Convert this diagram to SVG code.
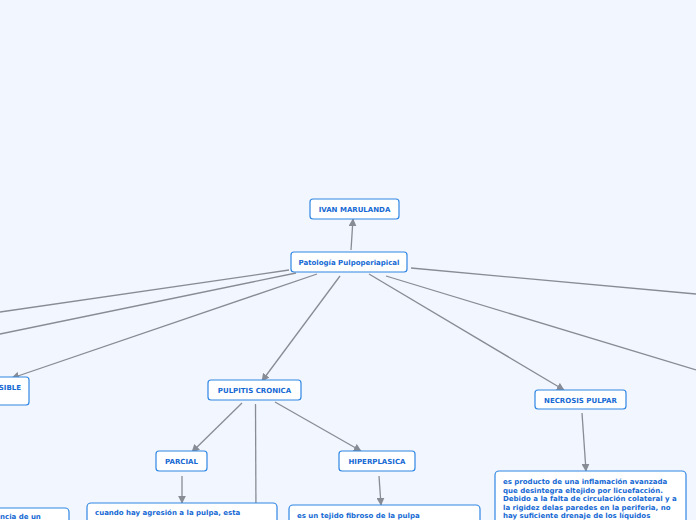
<svg xmlns="http://www.w3.org/2000/svg" width="696" height="520" viewBox="0 0 696 520">
<defs>
<marker id="ah" viewBox="0 0 10 10" refX="9" refY="5" markerWidth="8" markerHeight="8" markerUnits="userSpaceOnUse" orient="auto">
<path d="M0,0 L10,5 L0,10 z" fill="#888c94"/>
</marker>
<style>
.box{fill:#ffffff;stroke:#2f86e3;stroke-width:1.2}
.lbl{font-family:"DejaVu Sans",Verdana,sans-serif;font-weight:bold;font-size:7px;fill:#1569d4;text-anchor:middle}
.txt{font-family:"DejaVu Sans",Verdana,sans-serif;font-weight:bold;font-size:7px;fill:#1569d4}
.edge{stroke:#888c94;stroke-width:1.3;fill:none}
.arr{marker-end:url(#ah)}
</style>
</defs>
<rect x="0" y="0" width="696" height="520" fill="#f2f6fe"/>
<g id="connectors">
<line class="edge arr" x1="351" y1="250" x2="353" y2="219"/>
<line class="edge" x1="289" y1="270" x2="0" y2="312"/>
<line class="edge" x1="296" y1="273" x2="0" y2="334"/>
<line class="edge arr" x1="317" y1="274" x2="12" y2="378"/>
<line class="edge arr" x1="340" y1="276" x2="262" y2="381"/>
<line class="edge arr" x1="369" y1="274" x2="564" y2="390"/>
<line class="edge" x1="411" y1="268" x2="696" y2="294"/>
<line class="edge" x1="386" y1="276" x2="696" y2="370"/>
<line class="edge arr" x1="242" y1="403" x2="192" y2="452"/>
<line class="edge arr" x1="275" y1="402" x2="361" y2="451"/>
<line class="edge" x1="255.5" y1="404" x2="256" y2="520"/>
<line class="edge arr" x1="182" y1="476" x2="182" y2="503"/>
<line class="edge arr" x1="379" y1="476" x2="381" y2="505"/>
<line class="edge arr" x1="582" y1="413" x2="586" y2="471"/>
</g>
<g id="n_ivan">
<rect class="box" x="310" y="199" width="89" height="20" rx="3"/>
<text class="lbl" x="354.5" y="212">IVAN MARULANDA</text>
</g>
<g id="n_root">
<rect class="box" x="291" y="252" width="116" height="20" rx="3"/>
<text class="lbl" x="349" y="265">Patología Pulpoperiapical</text>
</g>
<g id="n_reversible">
<rect class="box" x="-80" y="377" width="109" height="28" rx="3"/>
<text class="lbl" x="21" y="390" style="text-anchor:end">SIBLE</text>
</g>
<g id="n_cronica">
<rect class="box" x="208" y="380" width="93" height="20" rx="3"/>
<text class="lbl" x="254.5" y="393">PULPITIS CRONICA</text>
</g>
<g id="n_necrosis">
<rect class="box" x="535" y="390" width="91" height="19" rx="3"/>
<text class="lbl" x="580.5" y="402.5">NECROSIS PULPAR</text>
</g>
<g id="n_parcial">
<rect class="box" x="156" y="451" width="51" height="20" rx="3"/>
<text class="lbl" x="181.5" y="464">PARCIAL</text>
</g>
<g id="n_hiper">
<rect class="box" x="339" y="451" width="76" height="20" rx="3"/>
<text class="lbl" x="377" y="464">HIPERPLASICA</text>
</g>
<g id="n_left_desc">
<rect class="box" x="-120" y="508" width="189" height="40" rx="4"/>
<text class="txt" x="0" y="519">ncia de un</text>
</g>
<g id="n_parcial_desc">
<rect class="box" x="87" y="503" width="190" height="40" rx="4"/>
<text class="txt" x="95" y="515">cuando hay agresión a la pulpa, esta</text>
</g>
<g id="n_hiper_desc">
<rect class="box" x="289" y="505" width="191" height="40" rx="4"/>
<text class="txt" x="297" y="518">es un tejido fibroso de la pulpa</text>
</g>
<g id="n_necrosis_desc">
<rect class="box" x="495" y="471" width="191" height="60" rx="4"/>
<text class="txt" x="503" y="484">es producto de una inflamación avanzada</text>
<text class="txt" x="503" y="492.6">que desintegra eltejido por licuefacción.</text>
<text class="txt" x="503" y="501.2">Debido a la falta de circulación colateral y a</text>
<text class="txt" x="503" y="509.8">la rigidez delas paredes en la periferia, no</text>
<text class="txt" x="503" y="518.4">hay suficiente drenaje de los líquidos</text>
</g>
</svg>
